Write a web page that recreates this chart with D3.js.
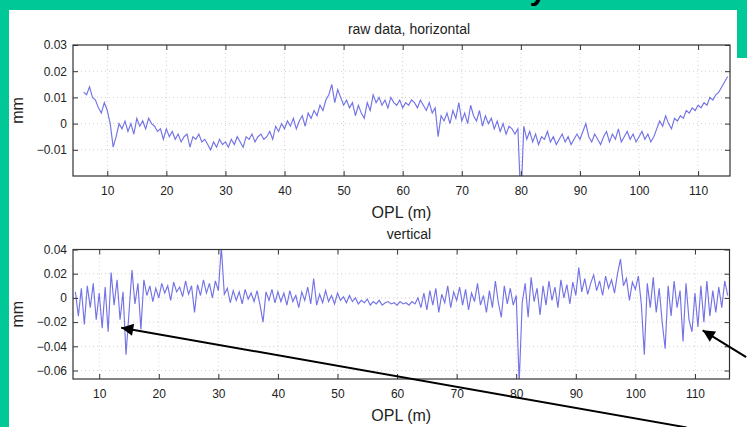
<!DOCTYPE html>
<html>
<head>
<meta charset="utf-8">
<script src="https://cdn.jsdelivr.net/npm/d3@7"></script>
<style>
  body { margin: 0; background: #fff; }
  svg { display: block; font-family: "Liberation Sans", Arial, sans-serif; }
</style>
</head>
<body>
<script>
// samples every 0.5 m starting at 6 m, values in 0.001 mm
const oplStart = 6;
const oplStep = 0.5;

const horizontal = [
    12, 11, 14, 10, 9, 6, 4, 8, 5, 0,
    -9, -5, 0, -2, 1, -3, 0, -4, 2, -1,
    1, -2, 2, 0, -1, -3, -2, -6, -2, -5,
    -3, -6, -4, -7, -5, -4, -9, -5, -6, -4,
    -7, -6, -8, -10, -7, -9, -6, -8, -7, -9,
    -6, -8, -5, -7, -9, -5, -6, -4, -7, -5,
    -4, -6, -5, -3, -6, -1, -3, 0, -2, 1,
    -1, 2, -2, 1, 3, -1, 4, 2, 5, 3,
    7, 5, 9, 11, 15, 8, 13, 10, 7, 9,
    6, 8, 3, 7, 4, 2, 8, 5, 11, 8,
    10, 7, 9, 6, 10, 8, 7, 9, 6, 8,
    7, 9, 8, 6, 9, 7, 5, 8, 4, 6,
    -5, 3, 1, 4, 0, 5, 2, 8, 1, 4,
    0, 7, 3, 1, 5, -1, 3, 0, 2, -2,
    1, -3, 0, -4, -1, -2, -4, -2, -30, -1,
    -6, -3, -7, -4, -8, -5, -6, -3, -7, -5,
    -8, -6, -4, -7, -5, -8, -6, -4, -6, -3,
    0, -5, -7, -4, -6, -8, -5, -3, -7, -4,
    -6, -2, -7, -5, -3, -6, -4, -7, -5, -3,
    -6, -4, -7, -5, -2, 1, -1, 3, 0, -2,
    2, 1, 3, 2, 5, 4, 6, 5, 7, 6,
    8, 7, 10, 9, 11, 12, 14, 16, 18
];

const vertical = [
    5, -15, 8, -22, 10, -8, 12, -18, 4, -25,
    9, -28, 21, -6, 15, -18, 5, -47, -12, 23,
    -5, 12, -26, 15, 2, 10, -3, 8, 0, 12,
    4, 10, -2, 13, 5, 9, 1, 14, 3, 10,
    -12, 11, 2, 15, 4, 12, 0, 14, 6, 42,
    3, 8, -4, 6, -2, 5, -5, 7, -1, 4,
    -3, 6, -6, -20, 5, -2, 7, -4, 5, -3,
    4, -6, 6, -3, 2, -8, 5, -2, 9, -5,
    16, -6, 3, -4, 6, -3, 2, -5, 4, -2,
    1, -4, 2, -3, 0, -5, -2, -4, -1, -6,
    -3, -5, -2, -6, -4, -3, -5, -4, -6, -3,
    -5, -4, -6, -3, -5, 0, -8, 4, -10, 6,
    -6, 8, -12, 3, -4, 10, -8, 5, -2, 9,
    -6, 7, -10, 4, -3, 12, -6, 2, -12, 6,
    -8, 14, -4, -16, 10, -5, 8, -6, 2, -70,
    -4, 12, -16, 17, -3, 8, -14, 10, -6, 14,
    -2, 9, -8, 15, 0, 11, -5, 13, 2, 25,
    5, 16, 3, 12, 19, 6, 14, 2, 18, 8,
    15, 4, 20, 32, 10, 16, -2, 13, 7, 18,
    -5, -47, 12, -8, 17, -12, 8, -20, -42, 10,
    -15, 14, -8, 6, -36, 12, -18, -28, 4, -24,
    10, -20, 14, -15, 6, -12, 9, -8, 14, 2
];

const xTicks = [10, 20, 30, 40, 50, 60, 70, 80, 90, 100, 110];
const hTicks = [-0.01, 0, 0.01, 0.02, 0.03];
const vTicks = [-0.06, -0.04, -0.02, 0, 0.02, 0.04];

// arrows pointing into the vertical panel: [tail OPL, tail value, tip OPL, tip value] (0.001 mm)
const arrows = [
    [108.6, -107, 13.7, -24.6],
    [118.6, -49, 111.3, -26.8]
];

const W = 747, H = 427;
const lineColor = "#7373e6";

const svg = d3.select("body").append("svg")
    .attr("width", W)
    .attr("height", H);

// slide background
svg.append("rect").attr("width", W).attr("height", H).attr("fill", "#00c896");
svg.append("rect").attr("x", 9).attr("y", 10).attr("width", W - 9).attr("height", H - 10).attr("fill", "#fff");
svg.append("rect").attr("x", 737).attr("y", 0).attr("width", 10).attr("height", 58).attr("fill", "#00c896");
// slide heading, only the tail of the last letter shows
svg.append("text")
    .attr("x", 538).attr("y", 0)
    .attr("text-anchor", "middle")
    .style("font-size", "30px").style("font-weight", "bold")
    .attr("fill", "#000")
    .text("y");

const fmt = v => v === 0 ? "0" : d3.format(".2f")(v).replace("-", "\u2212");

function drawPanel(opts) {
    const x = d3.scaleLinear().domain(opts.xDomain).range([opts.left, opts.right]);
    const y = d3.scaleLinear().domain(opts.yDomain).range([opts.bottom, opts.top]);
    const g = svg.append("g");
    const clipId = "clip-" + opts.name;

    g.append("clipPath").attr("id", clipId)
        .append("rect")
        .attr("x", opts.left).attr("y", opts.top)
        .attr("width", opts.right - opts.left).attr("height", opts.bottom - opts.top);

    // dotted grid
    g.selectAll(".gx").data(xTicks).enter().append("line")
        .attr("x1", d => x(d)).attr("x2", d => x(d))
        .attr("y1", opts.top).attr("y2", opts.bottom)
        .attr("stroke", "#d0d0d0").attr("stroke-dasharray", "1,3");
    g.selectAll(".gy").data(opts.yTicks).enter().append("line")
        .attr("x1", opts.left).attr("x2", opts.right)
        .attr("y1", d => y(d)).attr("y2", d => y(d))
        .attr("stroke", "#d0d0d0").attr("stroke-dasharray", "1,3");

    const line = d3.line()
        .x((d, i) => x(oplStart + i * oplStep))
        .y(d => y(d / 1000));

    g.append("path")
        .datum(opts.data)
        .attr("clip-path", `url(#${clipId})`)
        .attr("fill", "none")
        .attr("stroke", lineColor)
        .attr("stroke-width", 1.15)
        .attr("d", line);

    const axes = [
        [d3.axisBottom(x).tickValues(xTicks).tickSize(-5).tickPadding(10), opts.bottom, null, true],
        [d3.axisTop(x).tickValues(xTicks).tickSize(-5), opts.top, null, false],
        [d3.axisLeft(y).tickValues(opts.yTicks).tickSize(-5).tickPadding(6).tickFormat(fmt), null, opts.left, true],
        [d3.axisRight(y).tickValues(opts.yTicks).tickSize(-5), null, opts.right, false]
    ];
    axes.forEach(([ax, ty, tx, labels]) => {
        const a = g.append("g")
            .attr("transform", `translate(${tx || 0},${ty || 0})`)
            .call(ax.tickSizeOuter(0));
        a.select(".domain").remove();
        a.selectAll(".tick line").attr("stroke", "#333");
        if (labels) {
            a.selectAll(".tick text").attr("fill", "#222").style("font-size", "12px");
        } else {
            a.selectAll(".tick text").remove();
        }
    });

    g.append("rect")
        .attr("x", opts.left).attr("y", opts.top)
        .attr("width", opts.right - opts.left).attr("height", opts.bottom - opts.top)
        .attr("fill", "none").attr("stroke", "#333").attr("stroke-width", 1.2);

    g.append("text")
        .attr("x", 409).attr("y", opts.top - 11)
        .attr("text-anchor", "middle")
        .style("font-size", "14px").attr("fill", "#222")
        .text(opts.title);

    g.append("text")
        .attr("x", (opts.left + opts.right) / 2).attr("y", opts.bottom + 42)
        .attr("text-anchor", "middle")
        .style("font-size", "16px").attr("fill", "#222")
        .text("OPL (m)");

    g.append("text")
        .attr("transform", `translate(23,${(opts.top + opts.bottom) / 2}) rotate(-90)`)
        .attr("text-anchor", "middle")
        .style("font-size", "16px").attr("fill", "#222")
        .text("mm");

    return { x, y };
}

drawPanel({
    name: "h", title: "raw data, horizontal", data: horizontal,
    left: 73, right: 730, top: 45, bottom: 176,
    xDomain: [4.2, 115.4], yDomain: [-0.02, 0.03], yTicks: hTicks
});

const vPanel = drawPanel({
    name: "v", title: "vertical", data: vertical,
    left: 73, right: 729.5, top: 249.5, bottom: 379,
    xDomain: [5.6, 115.8], yDomain: [-0.067, 0.04], yTicks: vTicks
});

// black annotation arrows
const defs = svg.append("defs");
defs.append("marker")
    .attr("id", "head")
    .attr("viewBox", "0 0 10 10")
    .attr("refX", 10).attr("refY", 5)
    .attr("markerWidth", 16).attr("markerHeight", 12)
    .attr("markerUnits", "userSpaceOnUse")
    .attr("orient", "auto")
    .append("path")
    .attr("d", "M0,0 L10,5 L0,10 Z")
    .attr("fill", "#000");

svg.selectAll(".arrow").data(arrows).enter().append("line")
    .attr("x1", d => vPanel.x(d[0])).attr("y1", d => vPanel.y(d[1] / 1000))
    .attr("x2", d => vPanel.x(d[2])).attr("y2", d => vPanel.y(d[3] / 1000))
    .attr("stroke", "#000").attr("stroke-width", 2)
    .attr("marker-end", "url(#head)");
</script>
</body>
</html>
